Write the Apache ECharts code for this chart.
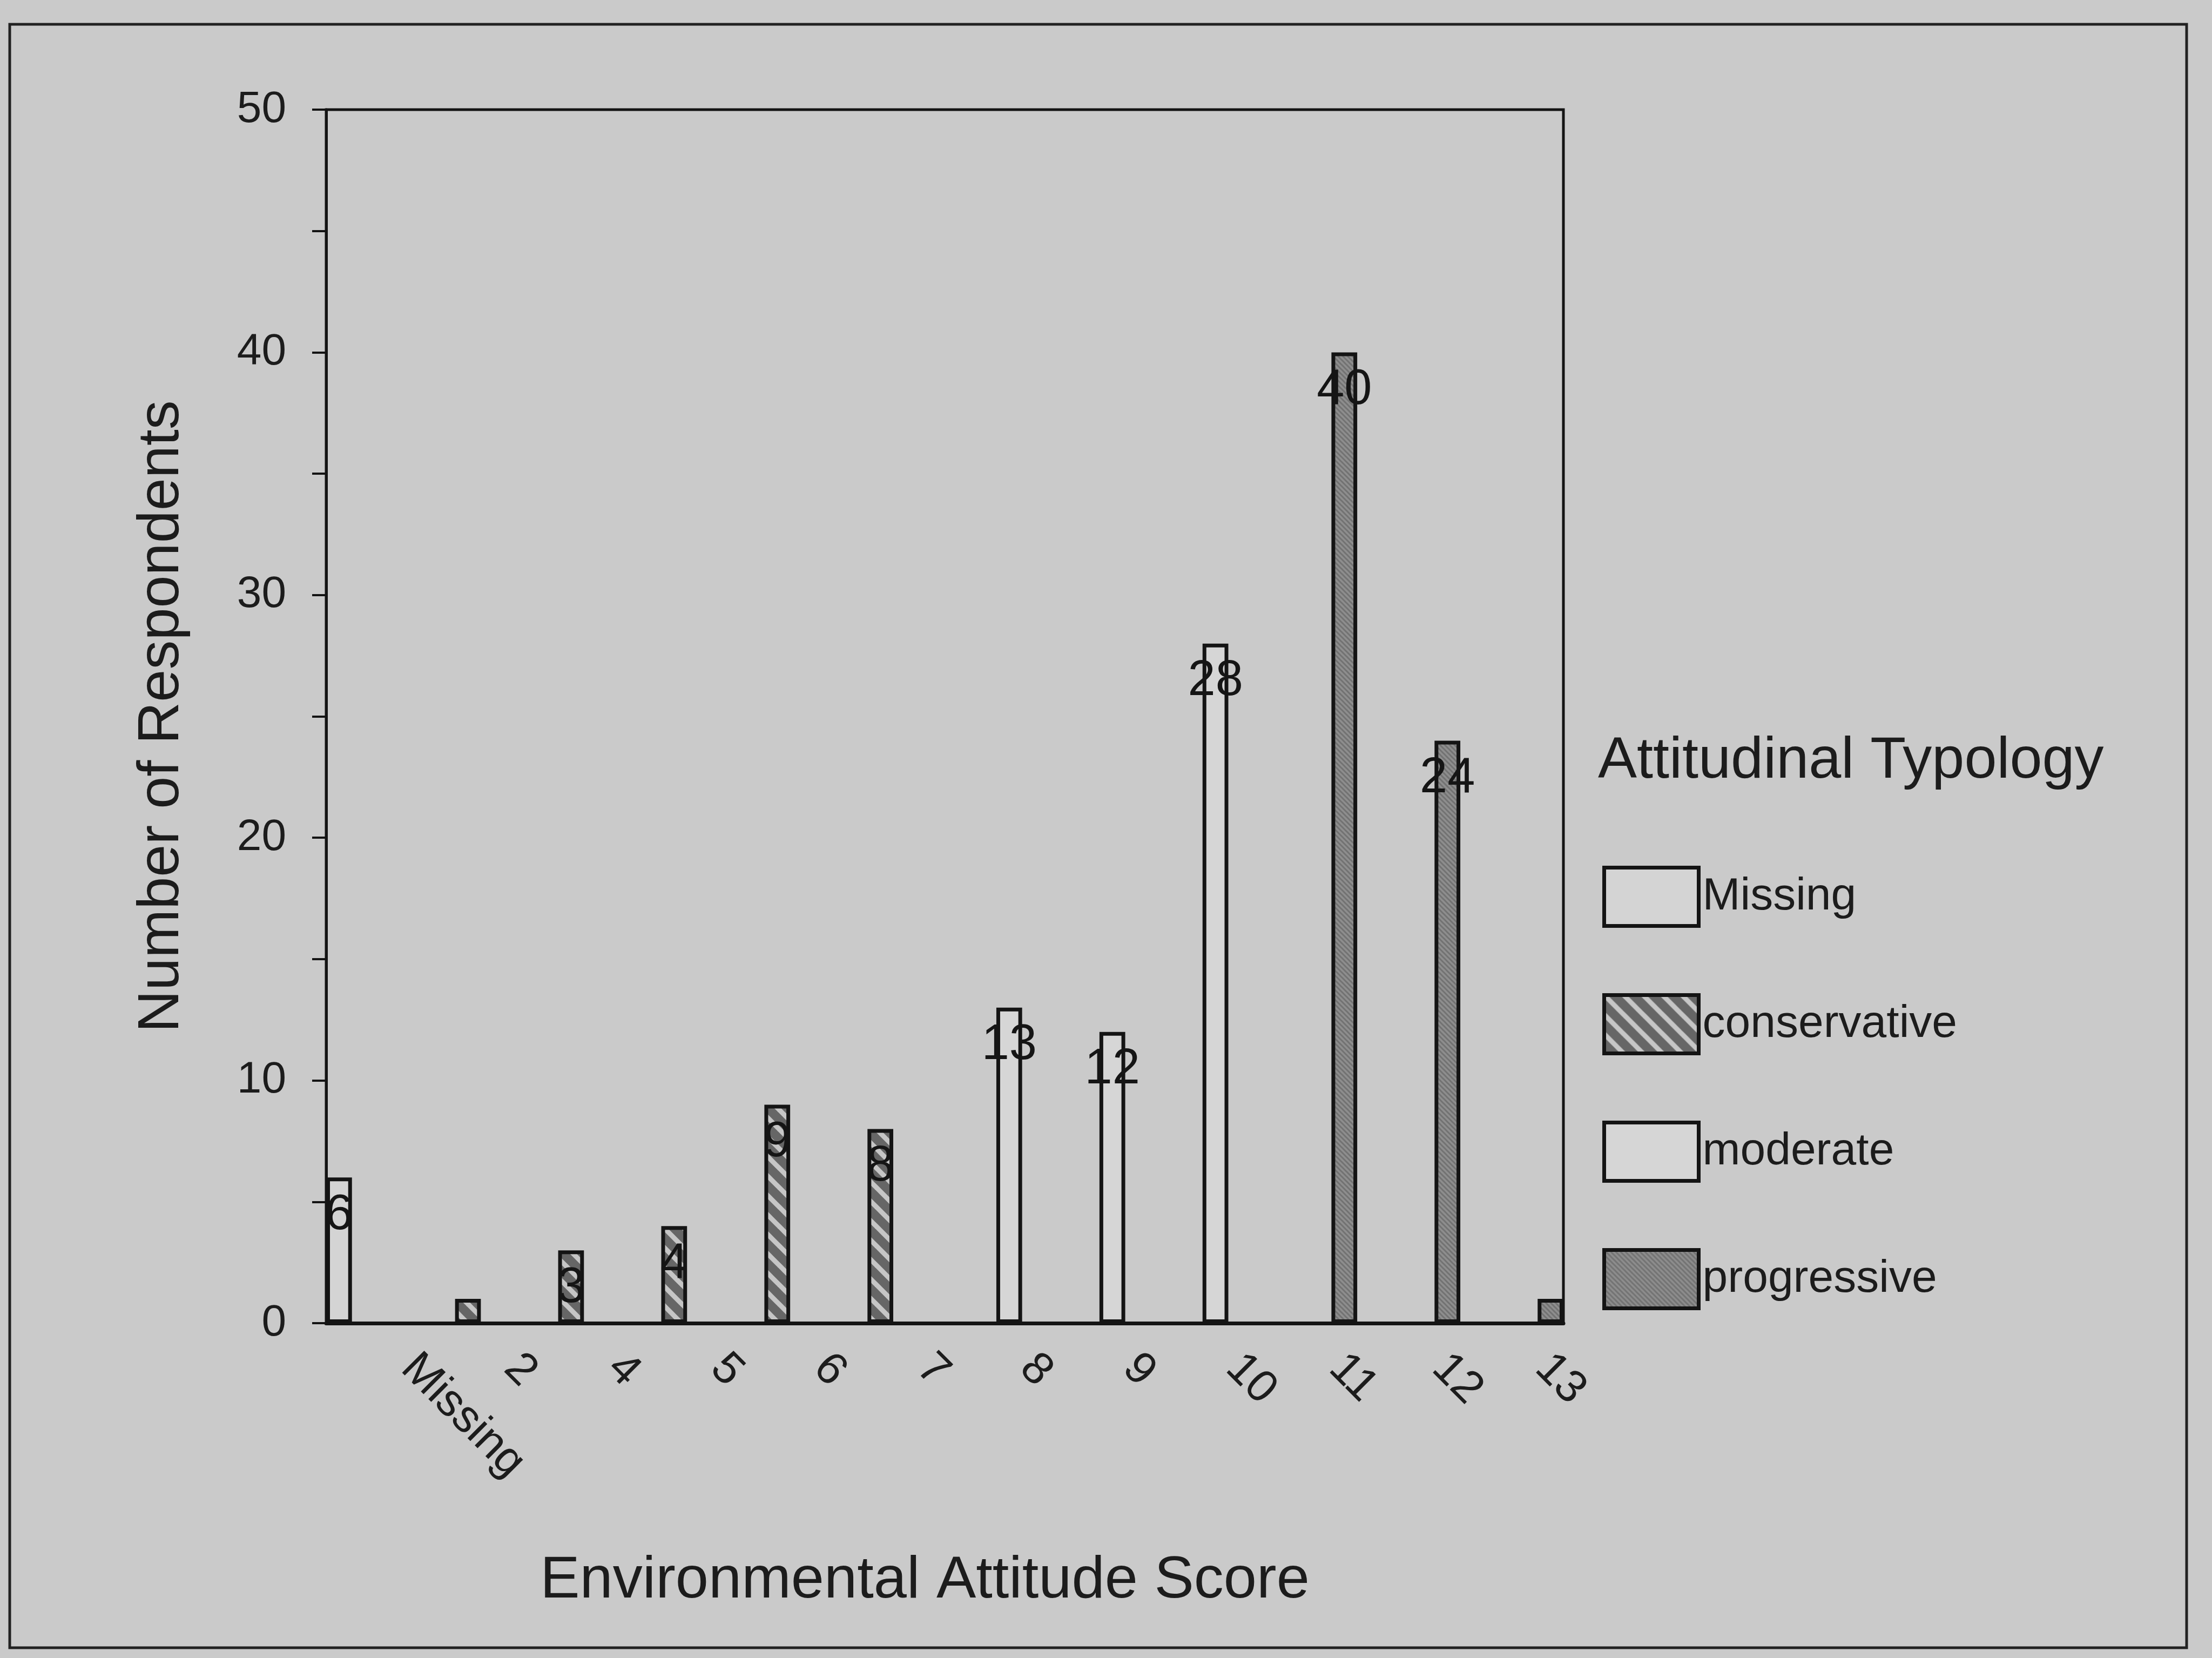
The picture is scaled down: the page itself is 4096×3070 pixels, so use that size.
<!DOCTYPE html>
<html>
<head>
<meta charset="utf-8">
<title>Environmental Attitude Score by Attitudinal Typology</title>
<script src="https://cdn.jsdelivr.net/npm/echarts@6/dist/echarts.min.js"></script>
<style>
  html, body { margin: 0; padding: 0; background: #cacaca; }
  #chart { width: 4096px; height: 3070px; }
</style>
</head>
<body>
<div id="chart"></div>
<script>
// Score categories along the x axis
const scoreCategories = ['Missing', '2', '4', '5', '6', '7', '8', '9', '10', '11', '12', '13'];

// Respondent counts per typology (null where the typology has no bar)
const missingCounts      = [6, null, null, null, null, null, null, null, null, null, null, null];
const conservativeCounts = [null, 1, 3, 4, 9, 8, null, null, null, null, null, null];
const moderateCounts     = [null, null, null, null, null, null, 13, 12, 28, null, null, null];
const progressiveCounts  = [null, null, null, null, null, null, null, null, null, 40, 24, 1];

const typologyNames = ['Missing', 'conservative', 'moderate', 'progressive'];

const FONT = "'Liberation Sans', Arial, Helvetica, sans-serif";
const NARROW = "'Liberation Sans Narrow', 'Arial Narrow', 'Liberation Sans', Arial, sans-serif";
const INK = '#1c1c1c';
const LINE = '#141414';

// Diagonal hatch tile ("\" direction), repeated as a fill pattern
function hatch(size, bg, fg, lineWidth) {
  const c = document.createElement('canvas');
  c.width = size; c.height = size;
  const g = c.getContext('2d');
  g.fillStyle = bg;
  g.fillRect(0, 0, size, size);
  g.strokeStyle = fg;
  g.lineWidth = lineWidth;
  g.lineCap = 'square';
  for (let k = -1; k <= 1; k++) {
    g.beginPath();
    g.moveTo(k * size, 0);
    g.lineTo(k * size + size, size);
    g.stroke();
  }
  return { image: c, repeat: 'repeat' };
}

const fills = {
  'Missing': '#d4d4d4',
  'conservative': hatch(36, '#666666', '#c6c6c6', 9),
  'moderate': '#d6d6d6',
  'progressive': hatch(9, '#8e8e8e', '#727272', 3)
};

const seriesData = [missingCounts, conservativeCounts, moderateCounts, progressiveCounts];

const chart = echarts.init(document.getElementById('chart'), null, { renderer: 'canvas' });

chart.setOption({
  animation: false,
  backgroundColor: '#cacaca',
  textStyle: { fontFamily: FONT, color: INK },
  title: {
    text: 'Attitudinal Typology',
    left: 2959,
    top: 1356,
    padding: 0,
    textStyle: { fontFamily: FONT, fontSize: 108, fontWeight: 'normal', color: INK }
  },
  legend: {
    orient: 'vertical',
    left: 2967,
    top: 1603,
    padding: 0,
    itemWidth: 175,
    itemHeight: 108,
    itemGap: 121,
    icon: 'rect',
    data: typologyNames,
    itemStyle: { borderColor: LINE, borderWidth: 7 },
    textStyle: { fontFamily: FONT, fontSize: 84, color: INK, padding: [0, 0, 0, 2] }
  },
  grid: {
    left: 604,
    right: 1201,
    top: 203,
    bottom: 620,
    show: true,
    borderColor: LINE,
    borderWidth: 5,
    backgroundColor: 'transparent'
  },
  xAxis: {
    type: 'category',
    data: scoreCategories,
    boundaryGap: true,
    name: 'Environmental Attitude Score',
    nameLocation: 'middle',
    nameGap: 423,
    nameTextStyle: { fontFamily: FONT, fontSize: 110, color: INK, padding: [0, 74, 0, 0] },
    axisLine: { lineStyle: { color: LINE, width: 7 } },
    axisTick: { alignWithLabel: true, length: 26, lineStyle: { color: LINE, width: 4 } },
    axisLabel: {
      interval: 0,
      rotate: -45,
      margin: 14,
      padding: [0, 0, 0, 80],
      fontFamily: FONT,
      fontSize: 84,
      color: INK
    },
    splitLine: { show: false }
  },
  yAxis: {
    type: 'value',
    min: 0,
    max: 50,
    interval: 10,
    name: 'Number of Respondents',
    nameLocation: 'middle',
    nameGap: 250,
    nameTextStyle: { fontFamily: FONT, fontSize: 108, color: INK },
    axisLine: { show: true, lineStyle: { color: LINE, width: 5 } },
    axisTick: { show: true, length: 26, lineStyle: { color: LINE, width: 4 } },
    minorTick: { show: true, splitNumber: 2, length: 26, lineStyle: { color: LINE, width: 4 } },
    axisLabel: { margin: 74, fontFamily: FONT, fontSize: 82, color: INK },
    splitLine: { show: false },
    minorSplitLine: { show: false }
  },
  series: typologyNames.map((name, i) => ({
    name: name,
    type: 'bar',
    data: seriesData[i],
    barGap: '0%',
    barCategoryGap: '0%',
    itemStyle: {
      color: fills[name],
      borderColor: LINE,
      borderWidth: 7
    },
    label: {
      show: true,
      position: 'insideTop',
      distance: 24,
      fontFamily: NARROW,
      fontSize: 92,
      color: '#151515',
      formatter: p => (p.value > 1 ? String(p.value) : '')
    }
  })),
  graphic: [{
    type: 'rect',
    silent: true,
    shape: { x: 18, y: 45, width: 4031, height: 3006 },
    style: { fill: null, stroke: '#222', lineWidth: 5 }
  }]
});
</script>
</body>
</html>
